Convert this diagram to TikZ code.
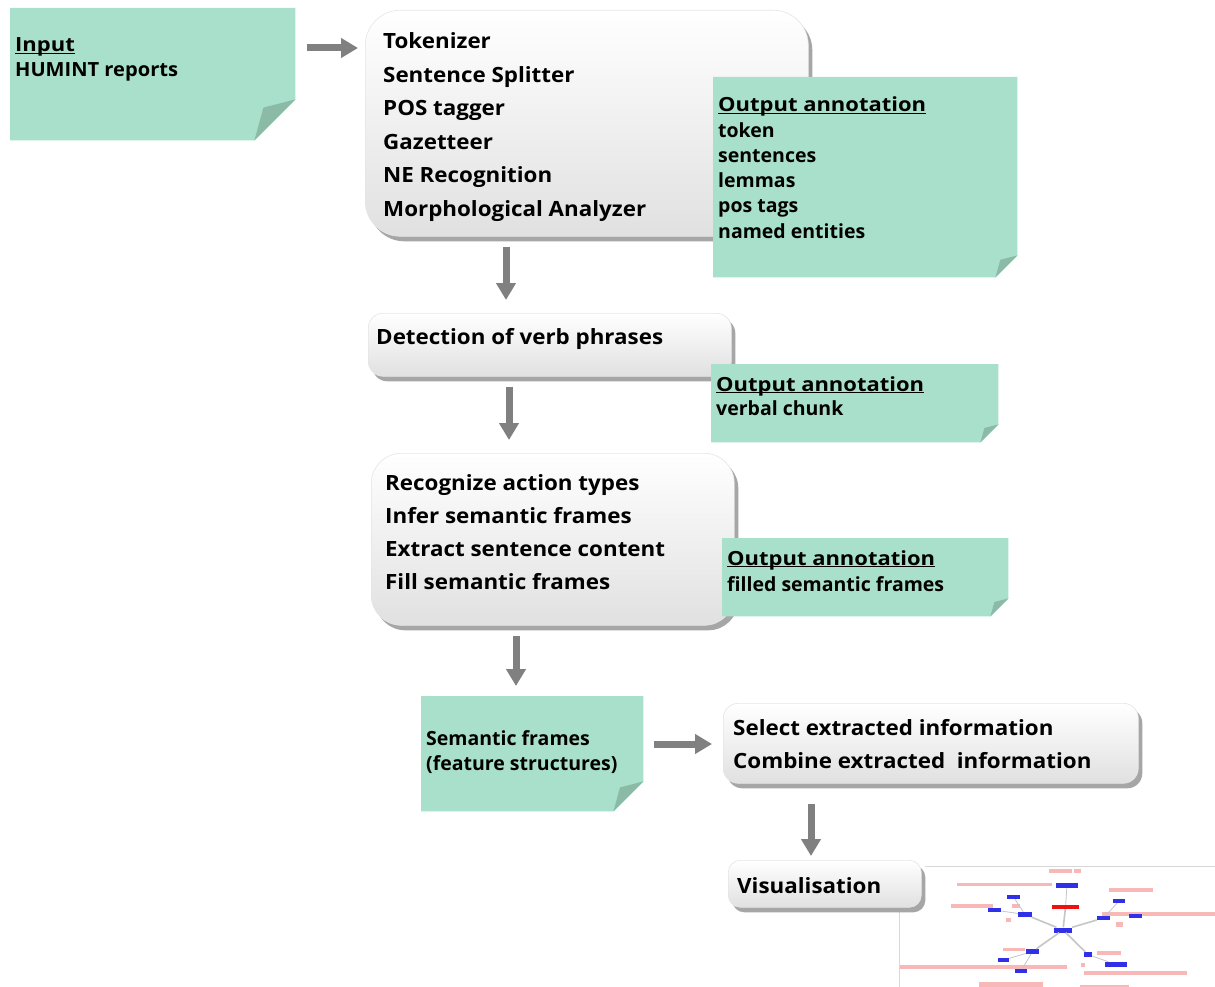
\documentclass[tikz,border=0pt]{standalone}
\usepackage{fontspec}
\usepackage{graphicx}
\setmainfont{Open Sans}
\usetikzlibrary{arrows.meta,shadows}
\definecolor{notegreen}{HTML}{A9E0CB}
\definecolor{foldgreen}{HTML}{8BBBA7}
\definecolor{arrowgray}{HTML}{808080}
\definecolor{vblue}{HTML}{3030E8}
\definecolor{vpink}{HTML}{F8B8B8}
\definecolor{vred}{HTML}{F01010}
\definecolor{frame}{HTML}{D8D8D8}
\newlength\hdw
\newcommand\bx[1]{\scalebox{1.065}[1]{#1}}
\newcommand\hd[1]{\settowidth\hdw{#1}\scalebox{1.127}[1]{\rlap{\rule[-2.4pt]{\hdw}{1.7pt}}#1}}
% #1 name, #2 x, #3 y, #4 width, #5 height, #6 fold size
\newcommand\stickynote[6]{%
  \node[notebase, minimum width=#4, minimum height=#5, anchor=north west] (#1) at (#2,#3) {};
  \fill[notegreen] (#1.north west) -- (#1.north east) -- ([yshift=#6]#1.south east)
     -- ([xshift=-#6]#1.south east) -- (#1.south west) -- cycle;
  \fill[foldgreen] ([yshift=#6]#1.south east) -- ([xshift=-0.78*#6, yshift=0.8*#6]#1.south east)
     -- ([xshift=-#6]#1.south east) -- cycle;
}
\begin{document}
\begin{tikzpicture}[x=1pt,y=-1pt,
  notebase/.style={rectangle, inner sep=0pt},
  procbox/.style={rectangle, inner sep=0pt, top color=white, bottom color=gray!24,
     draw=gray!20, line width=0.6pt,
     drop shadow={shadow xshift=4pt, shadow yshift=-5pt, fill=black!35, opacity=1}},
  boxtxt/.style={anchor=base west, inner sep=0pt, font=\bfseries\fontsize{21}{25}\selectfont},
  notetxt/.style={anchor=base west, inner sep=0pt, font=\bfseries\fontsize{19.5}{23}\selectfont},
  flow/.style={draw=arrowgray, line width=7pt, -{Triangle[width=19pt,length=17pt]}},
  gb/.style={rectangle, fill=vblue, inner sep=0pt},
  gr/.style={rectangle, fill=vred, inner sep=0pt},
  spoke/.style={draw=gray!45, line width=1.6pt}
]
\useasboundingbox (0,0) rectangle (1215,987);
\fill[white] (0,0) rectangle (1215,987);

% ---------- process boxes ----------
\node[procbox, rounded corners=35pt, minimum width=443, minimum height=226, anchor=north west] (b1) at (365,10) {};
\node[procbox, rounded corners=15pt, minimum width=363, minimum height=63, anchor=north west] (b2) at (368,313) {};
\node[procbox, rounded corners=30pt, minimum width=363, minimum height=172, anchor=north west] (b3) at (371,453) {};
\node[procbox, rounded corners=15pt, minimum width=415, minimum height=80, anchor=north west] (b4) at (723,703) {};

% ---------- visualisation image frame ----------
\draw[frame, line width=0.8pt] (925,866) -- (1215,866);
\draw[frame, line width=0.8pt] (899,912) -- (899,987);

\node[procbox, rounded corners=12pt, minimum width=193, minimum height=47, anchor=north west] (b5) at (728,860) {};

% ---------- box texts ----------
\foreach \t [count=\i] in {Tokenizer, Sentence Splitter, POS tagger, Gazetteer, NE Recognition, Morphological Analyzer}
  \node[boxtxt] (ta\i) at (383,{49+33.4*(\i-1)}) {\bx{\t}};
\node[boxtxt] (tb1) at (376,344) {\bx{Detection of verb phrases}};
\foreach \t [count=\i] in {Recognize action types, Infer semantic frames, Extract sentence content, Fill semantic frames}
  \node[boxtxt] (tc\i) at (385,{490+33*(\i-1)}) {\bx{\t}};
\node[boxtxt] (td1) at (733,735) {\bx{Select extracted information}};
\node[boxtxt] (td2) at (733,768) {\bx{Combine extracted\ \ information}};
\node[boxtxt] (te1) at (737,893) {\bx{Visualisation}};

% ---------- sticky notes ----------
\stickynote{in}{10}{8}{285}{132}{41}
\stickynote{n1}{713}{77}{304}{200}{22}
\stickynote{n2}{711}{364}{287}{78}{18}
\stickynote{n3}{722}{538}{286}{78}{18}
\stickynote{sf}{421}{696}{222}{115}{30}

\node[notetxt] (in1) at (15,52) {\hd{Input}};
\node[notetxt] (in2) at (15,77) {\scalebox{1.03}[1]{HUMINT reports}};

\node[notetxt] (n1h) at (718,112) {\hd{Output annotation}};
\foreach \t [count=\i] in {token, sentences, lemmas, pos tags, named entities}
  \node[notetxt] (n1l\i) at (718,{138+25*(\i-1)}) {\t};

\node[notetxt] (n2h) at (716,391) {\hd{Output annotation}};
\node[notetxt] (n2l) at (716,415) {verbal chunk};

\node[notetxt] (n3h) at (727,565) {\hd{Output annotation}};
\node[notetxt] (n3l) at (727,591) {filled semantic frames};

\node[notetxt] (sf1) at (426,745) {Semantic frames};
\node[notetxt] (sf2) at (426,770) {(feature structures)};

% ---------- arrows ----------
\draw[flow] ([xshift=12pt,yshift=-40pt]in.north east) -- ([xshift=-7pt,yshift=-38pt]b1.north west);
\draw[flow] ([xshift=141pt,yshift=-10pt]b1.south west) -- ([xshift=138pt,yshift=13pt]b2.north west);
\draw[flow] ([xshift=141pt,yshift=-10pt]b2.south west) -- ([xshift=138pt,yshift=13pt]b3.north west);
\draw[flow] ([xshift=145pt,yshift=-10pt]b3.south west) -- ([xshift=95pt,yshift=10pt]sf.north west);
\draw[flow] ([xshift=11pt,yshift=-48pt]sf.north east) -- ([xshift=-11pt,yshift=-41pt]b4.north west);
\draw[flow] ([xshift=88pt,yshift=-20pt]b4.south west) -- ([xshift=83pt,yshift=4pt]b5.north west);

% ---------- visualisation graph (small screenshot) ----------
\foreach \xa/\ya/\xb/\yb in {1049/869/1072/873, 1074/869/1081/873, 957/883/1052/886, 1109/888/1153/892,
  951/904/993/908, 1012/904/1020/908, 1102/912/1215/916, 1006/918/1011/922, 1116/922/1123/927,
  1003/948/1025/951, 1097/951/1121/955, 900/965/1067/969, 1081/963/1085/967, 1084/971/1187/975,
  979/982/1043/987, 1080/985/1129/987}
  \fill[vpink] (\xa,\ya) rectangle (\xb,\yb);

\node[gb, minimum width=18, minimum height=5] (gc) at (1063,930) {};
\node[gr, minimum width=27, minimum height=4] (grd) at (1065.5,907) {};
\node[gb, minimum width=22, minimum height=5] (g1) at (1067,885.5) {};
\node[gb, minimum width=13, minimum height=4] (g2) at (1013.5,897) {};
\node[gb, minimum width=13, minimum height=4] (g3) at (994.5,910) {};
\node[gb, minimum width=14, minimum height=5] (g4) at (1025,914.5) {};
\node[gb, minimum width=12, minimum height=4] (g5) at (1119,901) {};
\node[gb, minimum width=13, minimum height=4] (g6) at (1103.5,918) {};
\node[gb, minimum width=13, minimum height=4] (g7) at (1135.5,916) {};
\node[gb, minimum width=13, minimum height=5] (g8) at (1032.5,951.5) {};
\node[gb, minimum width=11, minimum height=4] (g9) at (1003.5,960) {};
\node[gb, minimum width=12, minimum height=4] (g10) at (1021,971) {};
\node[gb, minimum width=8, minimum height=5] (g11) at (1088,954.5) {};
\node[gb, minimum width=22, minimum height=5] (g12) at (1116,964.5) {};

\draw[spoke] (gc) -- (grd);
\draw[spoke] (gc) -- (g4);
\draw[spoke] (gc) -- (g6);
\draw[spoke] (gc) -- (g8);
\draw[spoke] (gc) -- (g11);
\draw[spoke, line width=0.8pt] (grd) -- (g1);
\draw[spoke, line width=0.8pt] (g2) -- (g4);
\draw[spoke, line width=0.8pt] (g3) -- (g4);
\draw[spoke, line width=0.8pt] (g5) -- (g6);
\draw[spoke, line width=0.8pt] (g8) -- (g9);
\draw[spoke, line width=0.8pt] (g8) -- (g10);
\draw[spoke, line width=0.8pt] (g11) -- (g12);
\end{tikzpicture}
\end{document}
